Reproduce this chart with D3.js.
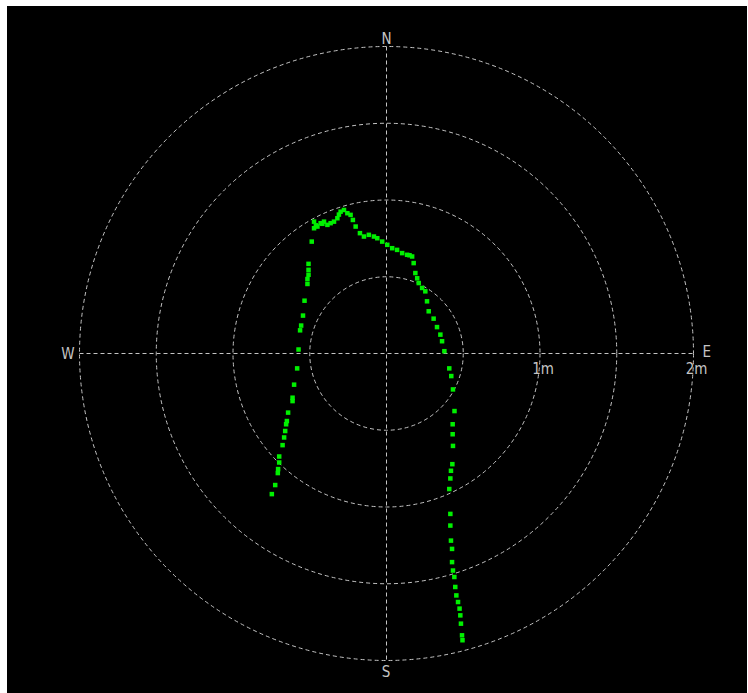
<!DOCTYPE html>
<html>
<head>
<meta charset="utf-8">
<script src="https://cdn.jsdelivr.net/npm/d3@7/dist/d3.min.js"></script>
<style>
  html, body { margin: 0; padding: 0; background: #ffffff; }
  svg { display: block; }
</style>
</head>
<body>
<script>
// Track points: east / north offsets in metres
const eastM = [-0.747,-0.725,-0.708,-0.706,-0.699,-0.699,-0.677,-0.667,-0.660,-0.654,-0.649,-0.641,-0.612,-0.612,-0.602,-0.582,-0.573,-0.563,-0.556,-0.544,-0.534,-0.515,-0.515,-0.508,-0.508,-0.508,-0.487,-0.472,-0.472,-0.460,-0.450,-0.429,-0.418,-0.407,-0.385,-0.364,-0.342,-0.320,-0.310,-0.299,-0.277,-0.255,-0.234,-0.219,-0.201,-0.173,-0.147,-0.115,-0.082,-0.060,-0.028,0.005,0.037,0.069,0.102,0.134,0.150,0.167,0.177,0.188,0.200,0.210,0.232,0.253,0.264,0.275,0.307,0.329,0.351,0.362,0.377,0.409,0.422,0.433,0.443,0.431,0.431,0.433,0.429,0.420,0.416,0.409,0.416,0.416,0.420,0.427,0.427,0.433,0.442,0.448,0.455,0.466,0.476,0.481,0.485,0.492,0.495];
const northM = [-0.916,-0.857,-0.779,-0.753,-0.710,-0.671,-0.597,-0.547,-0.505,-0.461,-0.440,-0.385,-0.310,-0.288,-0.203,-0.097,0.026,0.151,0.182,0.247,0.344,0.453,0.485,0.513,0.545,0.584,0.729,0.816,0.859,0.835,0.827,0.849,0.845,0.859,0.838,0.849,0.859,0.881,0.905,0.924,0.935,0.914,0.903,0.870,0.827,0.784,0.762,0.773,0.762,0.751,0.729,0.708,0.686,0.675,0.654,0.643,0.640,0.632,0.589,0.524,0.490,0.459,0.427,0.405,0.340,0.275,0.227,0.172,0.123,0.080,0.015,-0.097,-0.147,-0.234,-0.375,-0.461,-0.526,-0.602,-0.721,-0.764,-0.814,-0.883,-1.045,-1.121,-1.219,-1.273,-1.359,-1.414,-1.456,-1.521,-1.576,-1.619,-1.662,-1.706,-1.760,-1.836,-1.868];

const ringValues = [0.5, 1, 1.5, 2];
const labelRings = [1, 2];
const ringLabels = ["1m", "2m"];
const compassLabels = ["N", "E", "S", "W"];
const maxRange = 2;

const W = 748, H = 693;
const cx = 386.5, cy = 353.5, R = 307;

const svg = d3.select("body").append("svg").attr("width", W).attr("height", H);

svg.append("rect").attr("x", 7).attr("y", 6).attr("width", 740).attr("height", 687).attr("fill", "#000");

const r = d3.scaleLinear().domain([0, maxRange]).range([0, R]);
const x = d3.scaleLinear().domain([-maxRange, maxRange]).range([cx - R, cx + R]);
const y = d3.scaleLinear().domain([-maxRange, maxRange]).range([cy + R, cy - R]);

const gridColor = "#c4c4c4";
const dash = "4,3";

const grid = svg.append("g");
grid.selectAll("circle.ring").data(ringValues).join("circle")
  .attr("class", "ring")
  .attr("cx", cx).attr("cy", cy).attr("r", d => r(d))
  .attr("fill", "none").attr("stroke", gridColor).attr("stroke-width", 1)
  .attr("stroke-dasharray", dash);

grid.append("line").attr("x1", x(-maxRange)).attr("x2", x(maxRange)).attr("y1", cy).attr("y2", cy)
  .attr("stroke", gridColor).attr("stroke-dasharray", dash);
grid.append("line").attr("x1", cx).attr("x2", cx).attr("y1", y(maxRange)).attr("y2", y(-maxRange))
  .attr("stroke", gridColor).attr("stroke-dasharray", dash);

const font = "'DejaVu Sans Condensed', 'DejaVu Sans', sans-serif";
const labels = svg.append("g").attr("fill", gridColor).attr("font-family", font).attr("font-size", 15);

const compassPos = [
  { t: compassLabels[0], x: cx, y: y(maxRange) - 3, a: "middle" },
  { t: compassLabels[1], x: x(maxRange) + 9, y: cy + 3, a: "start" },
  { t: compassLabels[2], x: cx - 0.5, y: y(-maxRange) + 16, a: "middle" },
  { t: compassLabels[3], x: x(-maxRange) - 5, y: cy + 5, a: "end" }
];
labels.selectAll("text.compass").data(compassPos).join("text")
  .attr("class", "compass")
  .attr("x", d => d.x).attr("y", d => d.y).attr("text-anchor", d => d.a).text(d => d.t);

labels.selectAll("text.ring").data(labelRings).join("text")
  .attr("class", "ring")
  .attr("x", d => x(d) + 3).attr("y", cy + 20).attr("text-anchor", "middle")
  .text((d, i) => ringLabels[i]);

const pts = eastM.map((e, i) => ({ e, n: northM[i] }));
svg.append("g").selectAll("rect").data(pts).join("rect")
  .attr("x", d => x(d.e) - 2.25).attr("y", d => y(d.n) - 2.25)
  .attr("width", 4.5).attr("height", 4.5)
  .attr("fill", "#00f000");
</script>
</body>
</html>
